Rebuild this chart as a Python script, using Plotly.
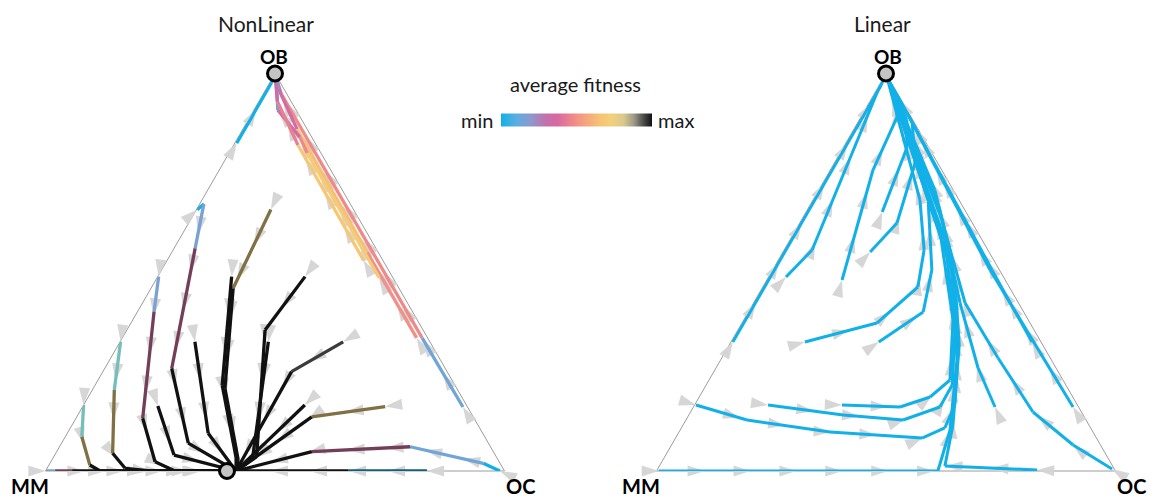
import math
import plotly.graph_objects as go

# ---------------- fitness colour scale (min -> max) ----------------
SCALE_POS = [0.0, 0.10, 0.20, 0.30, 0.38, 0.48, 0.56, 0.65, 0.73, 0.81, 0.88, 0.94, 1.0]
SCALE_HEX = ["#11b0e8", "#5aaee0", "#8f98cc", "#c470ab", "#d86aa0", "#ef8a8a", "#f5a47e",
             "#f6c274", "#f3d07a", "#d8cb8e", "#9f9a88", "#505050", "#111111"]

# ---------------- NonLinear trajectories (ternary fractions) ----------------
# OB share and OC share at each waypoint (MM = 1 - OB - OC)
nl_ob = [
    [0.825, 0.976, 1.0],
    [0.161, 0.335, 0.95, 1.0],
    [0.335, 0.55, 0.86, 0.96, 1.0],
    [0.486, 0.80, 0.84, 0.908, 0.964, 1.0],
    [0.53, 0.82, 0.93, 1.0],
    [0.657, 0.672, 0.56, 0.258, 0.070, 0.0],
    [0.489, 0.401, 0.1326, 0.0234, 0.0, 0.0],
    [0.325, 0.2038, 0.0445, 0.0068, 0.0, 0.0],
    [0.166, 0.0863, 0.0151, 0.0, 0.0],
    [0.0, 0.0, 0.0, 0.0],
    [0.1635, 0.040, 0.0],
    [0.325, 0.0948, 0.0],
    [0.658, 0.4596, 0.208, 0.0277, 0.0],
    [0.489, 0.216, 0.0327, 0.0],
    [0.489, 0.3547, 0.036, 0.0],
    [0.325, 0.035, 0.0],
    [0.325, 0.25, 0.0],
    [0.166, 0.0],
    [0.162, 0.136, 0.0],
    [0.0, 0.0194, 0.061, 0.0486, 0.0],
    [0.0, 0.0, 0.0],
]
nl_oc = [
    [0.004, 0.004, 0.0],
    [0.829, 0.653, 0.038, 0.0],
    [0.641, 0.426, 0.118, 0.028, 0.0],
    [0.484, 0.170, 0.134, 0.052, 0.022, 0.0],
    [0.428, 0.140, 0.040, 0.0],
    [0.002, 0.009, 0.046, 0.146, 0.276, 0.415],
    [0.002, 0.036, 0.1455, 0.227, 0.282, 0.415],
    [0.001, 0.048, 0.124, 0.170, 0.228, 0.415],
    [0.0, 0.036, 0.089, 0.119, 0.415],
    [0.0, 0.021, 0.058, 0.415],
    [0.163, 0.260, 0.415],
    [0.163, 0.307, 0.415],
    [0.162, 0.179, 0.287, 0.406, 0.415],
    [0.161, 0.277, 0.399, 0.415],
    [0.321, 0.301, 0.442, 0.415],
    [0.323, 0.434, 0.415],
    [0.486, 0.411, 0.415],
    [0.482, 0.415],
    [0.659, 0.512, 0.415],
    [0.99, 0.944, 0.764, 0.556, 0.415],
    [0.831, 0.659, 0.415],
]
# average fitness of each segment (0 = min, 1 = max)
nl_fit = [
    [0.0, 0.0],
    [0.14, 0.48, 0.30],
    [0.50, 0.64, 0.36, 0.22],
    [0.70, 0.48, 0.34, 0.15, 0.15],
    [0.68, 0.45, 0.32],
    [0.0, 0.16, 0.38, 1.0, 1.0],
    [0.16, 0.38, 1.0, 1.0, 1.0],
    [0.0, 0.72, 1.0, 1.0, 1.0],
    [0.0, 0.72, 1.0, 1.0],
    [0.16, 0.38, 1.0],
    [1.0, 1.0],
    [1.0, 1.0],
    [0.72, 1.0, 1.0, 1.0],
    [1.0, 1.0, 1.0],
    [1.0, 1.0, 1.0],
    [1.0, 1.0],
    [0.96, 1.0],
    [1.0],
    [0.72, 1.0],
    [0.0, 0.14, 0.38, 1.0],
    [0.0, 1.0],
]
# fitness of a coincident run sharing the same segment (None = no overlap)
nl_fit2 = [
    [None, None],
    [None, None, None],
    [None, None, None, None],
    [None, None, None, None, None],
    [None, None, None],
    [None, None, 1.0, None, None],
    [None, 1.0, None, None, None],
    [0.8, 1.0, None, None, None],
    [0.8, 1.0, None, None],
    [None, 1.0, None],
    [None, None],
    [None, None],
    [1.0, None, None, None],
    [None, None, None],
    [None, None, None],
    [None, None],
    [None, None],
    [None],
    [1.0, None],
    [None, None, 1.0, None],
    [1.0, None],
]

# ---------------- Linear trajectories ----------------
lin_ob = [
    [0.3245, 0.97, 1.0],
    [0.4881, 0.556, 0.9635, 1.0],
    [0.4805, 0.7572, 0.8906, 0.9535, 1.0],
    [0.6516, 0.8126, 0.883, 1.0],
    [0.551, 0.6239, 0.7748, 0.878, 1.0],
    [0.3245, 0.3723, 0.4629, 0.556, 0.6818, 1.0],
    [0.3245, 0.4, 0.5057, 0.6818, 1.0],
    [0.166, 0.1283, 0.0981, 0.083, 0.1082, 0.166, 0.3044, 0.556, 0.7069, 1.0],
    [0.166, 0.1409, 0.1283, 0.161, 0.2164, 0.3547, 0.5811, 1.0],
    [0.166, 0.161, 0.1862, 0.2289, 0.3799, 0.6063, 1.0],
    [0.0, 0.0, 0.1031, 0.2792, 0.5057, 1.0],
    [0.0025, 0.0126, 0.1157, 0.317, 0.4805, 1.0],
    [0.161, 0.2591, 0.4226, 0.6566, 1.0],
    [0.005, 0.0654, 0.1484, 0.2843, 0.4226, 0.6314, 1.0],
    [0.161, 0.5057, 1.0],
    [0.3245, 0.5057, 1.0],
]
lin_oc = [
    [0.004, 0.004, 0.0],
    [0.038, 0.061, 0.003, 0.0],
    [0.164, 0.093, 0.079, 0.043, 0.0],
    [0.166, 0.139, 0.104, 0.0],
    [0.190, 0.212, 0.176, 0.118, 0.0],
    [0.161, 0.294, 0.338, 0.305, 0.233, 0.0],
    [0.322, 0.381, 0.347, 0.251, 0.0],
    [0.003, 0.133, 0.329, 0.537, 0.574, 0.567, 0.505, 0.361, 0.253, 0.0],
    [0.160, 0.336, 0.473, 0.537, 0.536, 0.473, 0.338, 0.0],
    [0.321, 0.450, 0.503, 0.525, 0.456, 0.314, 0.0],
    [0.005, 0.613, 0.588, 0.515, 0.391, 0.0],
    [0.828, 0.622, 0.588, 0.501, 0.410, 0.0],
    [0.657, 0.571, 0.450, 0.289, 0.0],
    [0.990, 0.875, 0.746, 0.602, 0.461, 0.306, 0.0],
    [0.827, 0.474, 0.0],
    [0.656, 0.478, 0.0],
]
lin_fit = 0.0  # every Linear run sits at the minimum fitness

# fixed points marked with circles: (OB, OC)
nl_fixed = [(1.0, 0.0), (0.0, 0.3954)]
lin_fixed = [(1.0, 0.0)]

# ---------------- helpers ----------------
S3 = math.sqrt(3) / 2
FONT = "Lato, 'Open Sans', sans-serif"
W, H = 1156, 496
OFF = 8  # page offset of the plot div


def px(x):
    return (x - OFF) / W


def py(y):
    return (H - (y - OFF)) / H


def hex2rgb(h):
    return tuple(int(h[i:i + 2], 16) for i in (1, 3, 5))


def fit_rgb(f):
    f = min(max(f, 0.0), 1.0)
    for i in range(len(SCALE_POS) - 1):
        if f <= SCALE_POS[i + 1]:
            t = (f - SCALE_POS[i]) / (SCALE_POS[i + 1] - SCALE_POS[i])
            c0, c1 = hex2rgb(SCALE_HEX[i]), hex2rgb(SCALE_HEX[i + 1])
            return tuple(c0[k] + (c1[k] - c0[k]) * t for k in range(3))
    return hex2rgb(SCALE_HEX[-1])


def seg_color(f, f2=None):
    r = fit_rgb(f)
    if f2 is not None:
        r2 = fit_rgb(f2)
        r = tuple((x + y) / 2 for x, y in zip(r, r2))
    return "rgb(%d,%d,%d)" % tuple(round(x) for x in r)


def mm_of(ob, oc):
    return [max(0.0, 1.0 - a - c) for a, c in zip(ob, oc)]


def add_path(fig, sub, ob, oc, colors, width):
    for i in range(len(ob) - 1):
        a = ob[i:i + 2]
        c = oc[i:i + 2]
        fig.add_trace(go.Scatterternary(
            a=a, b=mm_of(a, c), c=c, mode="lines",
            line=dict(color=colors[i], width=width),
            subplot=sub, cliponaxis=False, hoverinfo="skip", showlegend=False))


def arrows_along(ob, oc, step, tail=0.035):
    xs = [c + a / 2 for a, c in zip(ob, oc)]
    ys = [a * S3 for a in ob]
    lens = [math.hypot(xs[i + 1] - xs[i], ys[i + 1] - ys[i]) for i in range(len(xs) - 1)]
    total = sum(lens)
    pa, pc, ang = [], [], []
    s = 0.0
    while s <= total - tail:
        acc = 0.0
        for i, L in enumerate(lens):
            if L == 0:
                continue
            if s <= acc + L or i == len(lens) - 1:
                t = (s - acc) / L
                x = xs[i] + (xs[i + 1] - xs[i]) * t
                y = ys[i] + (ys[i + 1] - ys[i]) * t
                dx, dy = xs[i + 1] - xs[i], ys[i + 1] - ys[i]
                a = y / S3
                pa.append(a)
                pc.append(x - a / 2)
                ang.append(math.degrees(math.atan2(dx, dy)))
                break
            acc += L
        s += step
    return pa, pc, ang


def add_arrows(fig, sub, paths_ob, paths_oc, step):
    A, C, ANG = [], [], []
    for ob, oc in zip(paths_ob, paths_oc):
        a, c, g = arrows_along(ob, oc, step)
        A += a
        C += c
        ANG += g
    fig.add_trace(go.Scatterternary(
        a=A, b=mm_of(A, C), c=C, mode="markers",
        marker=dict(symbol="arrow", size=18, color="#d4d4d4", opacity=0.95,
                    angle=ANG, angleref="up", line=dict(width=0)),
        subplot=sub, cliponaxis=False, hoverinfo="skip", showlegend=False))


def add_fixed(fig, sub, pts):
    a = [p[0] for p in pts]
    c = [p[1] for p in pts]
    fig.add_trace(go.Scatterternary(
        a=a, b=mm_of(a, c), c=c, mode="markers",
        marker=dict(size=15, color="#c4c4c4", line=dict(color="black", width=3)),
        subplot=sub, cliponaxis=False, hoverinfo="skip", showlegend=False))


# ---------------- figure ----------------
fig = go.Figure()

# flow arrows sit underneath the trajectories
add_arrows(fig, "ternary", nl_ob, nl_oc, 0.085)
add_arrows(fig, "ternary2", lin_ob, lin_oc, 0.1)

# NonLinear (left)
for ob, oc, ft, ft2 in zip(nl_ob, nl_oc, nl_fit, nl_fit2):
    add_path(fig, "ternary", ob, oc, [seg_color(f, g) for f, g in zip(ft, ft2)], 3.3)
add_fixed(fig, "ternary", nl_fixed)

# Linear (right)
for ob, oc in zip(lin_ob, lin_oc):
    add_path(fig, "ternary2", ob, oc, [seg_color(lin_fit)] * (len(ob) - 1), 3.0)
add_fixed(fig, "ternary2", lin_fixed)

# colour bar carrier
fig.add_trace(go.Scatterternary(
    a=[1, 1], b=[0, 0], c=[0, 0], mode="markers", subplot="ternary",
    marker=dict(size=1, opacity=0, color=[0, 1], cmin=0, cmax=1,
                colorscale=[[p, h] for p, h in zip(SCALE_POS, SCALE_HEX)],
                showscale=True,
                colorbar=dict(orientation="h", x=px(576.5), xanchor="center",
                              y=py(120), yanchor="middle",
                              len=151, lenmode="pixels", thickness=13,
                              outlinewidth=0, showticklabels=False, ticks="",
                              xpad=0, ypad=0)),
    hoverinfo="skip", showlegend=False))

axis = dict(showticklabels=False, ticks="", showgrid=False, showline=True,
            linecolor="#9c9c9c", linewidth=1, title=dict(text=""), layer="below traces", min=0)

fig.update_layout(
    width=W, height=H, margin=dict(l=0, r=0, t=0, b=0),
    paper_bgcolor="white", plot_bgcolor="white", showlegend=False,
    font=dict(family=FONT, color="#1a1a1a"),
    ternary=dict(domain=dict(x=[px(45.5), px(504.5)], y=[py(471), py(73.5)]),
                 bgcolor="white", sum=1, aaxis=axis, baxis=axis, caxis=axis),
    ternary2=dict(domain=dict(x=[px(656.5), px(1115.5)], y=[py(471), py(73.5)]),
                  bgcolor="white", sum=1, aaxis=axis, baxis=axis, caxis=axis),
)

texts = [
    ("NonLinear", 266, 23, 21, False),
    ("Linear", 882, 23, 21, False),
    ("OB", 274, 56, 19, True),
    ("OB", 888, 56, 19, True),
    ("MM", 30, 486, 20, True),
    ("OC", 520, 486, 20, True),
    ("MM", 641, 486, 20, True),
    ("OC", 1131, 486, 20, True),
    ("average fitness", 575, 84, 20, False),
    ("min", 477, 120, 20, False),
    ("max", 676, 120, 20, False),
]
for t, x, y, s, bold in texts:
    fig.add_annotation(text=("<b>%s</b>" % t) if bold else t, x=px(x), y=py(y),
                       xref="paper", yref="paper", xanchor="center", yanchor="middle",
                       showarrow=False, font=dict(size=s, family=FONT,
                                                  color="black" if bold else "#1a1a1a"))

fig.write_html("out.html")
